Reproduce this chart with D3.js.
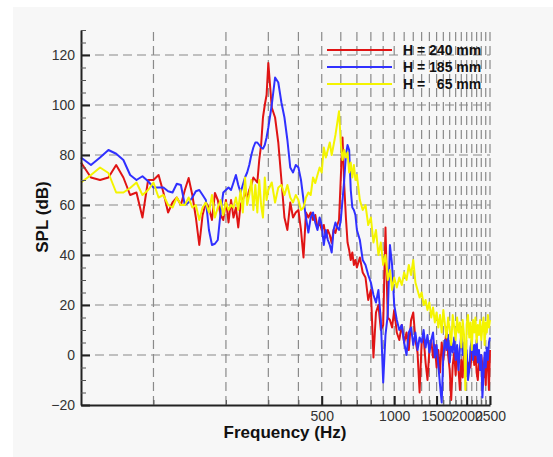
<!DOCTYPE html>
<html><head><meta charset="utf-8">
<script src="https://cdn.jsdelivr.net/npm/d3@7"></script>
<style>body{margin:0;background:#fff;} text{font-family:"Liberation Sans",Arial,Helvetica,sans-serif;}</style>
</head><body><svg id="c" width="553" height="457"></svg>
<script>
const freqs = [50,55,60,65,70,75,80,85,90,95,100,105,110,115,120,125,130,135,140,145,150,155,160,165,170,175,180,185,190,195,200,205,210,215,220,225,230,235,240,245,250,255,260,265,270,275,280,285,290,295,300,
310,320,330,340,350,360,370,380,390,400,410,420,430,440,450,460,470,480,490,500,510,520,530,540,550,560,570,580,590,600,610,620,630,640,650,660,670,680,690,700,
720,740,760,780,800,820,840,860,880,900,920,940,960,980,1000,
1025,1050,1075,1100,1125,1150,1175,1200,1225,1250,1275,1300,1325,1350,1375,1400,1425,1450,1475,1500,1525,1550,1575,1600,1625,1650,1675,1700,1725,1750,1775,1800,1825,1850,1875,1900,1925,1950,1975,2000,2025,2050,2075,2100,2125,2150,2175,2200,2225,2250,2275,2300,2325,2350,2375,2400,2425,2450,2475,2500];

const splH240 = [77,71,70,71,76,71,64,65,55,70,70,72,65,57,61,63,60,66,70.8,64,55,44,56,61,58.8,54,64.8,62,56,54,62,53,62,55,59,51,60,62,64.8,63,66,68,71,70,69,78,84,95,100,104,116.8,
99,95,85,70,55,50,61,55,57,58,50,39,57,55,57,54,56,51,53,50,52,47,50,48,44.8,50,48.8,52,54,71,87,68,55,45,42,38,41,36,38,35,
39,33,31,22,26,-1,17,20,10,12,51,15,14,11,18,
9,6,12,5,9,2,14,17,6,1,-15,5,7,-3,-10,2,6,-1,4,-5,2,-7,5,-2,3,11,0,-6,-18,-4,1,-8,3,-6,-14,-2,-9,2,-5,0,-8,-3,-5,1,3,-4,2,-7,-10,-2,-6,0,-4,-9,-1,-12,1,-3,-14,2];

const splH185 = [79,76,79,82,80.5,78,72,70,71.5,69.5,67,67,67,65.5,65,68.5,68,60,61,63,65.5,66,64,62,50,44,44.5,46,57,65,66,67,66,69,72,68,65,68,71,73,76,80,83,85,85,84,83,82.5,84,87,91,
100,111,109,101,95,86,75,73,76,75,70,62,55,49,55,57,53,50,55,52,44,50,46,44,41,50,53,51,50,54,62,70,80,84,82,66,59,58,56,50,
46,38,36,32,29,24,21,26,14,-11,8,16,44,36,20,
14,10,12,5,0,9,11,4,9,2,7,5,10,3,8,1,6,9,-1,4,-4,-12,-19,0,6,2,8,-3,5,1,7,-2,4,-6,3,8,0,5,-4,2,-10,-6,3,6,-2,4,0,6,-3,2,-6,0,-17,-8,1,-5,3,-2,5,7];

const splH65 = [69,72,75,72.8,65,65,66.8,69,64,66,69,63,64,60,59,63,60,60,63,59,60,54,59,61,57,64,55,59,62,56,61,58,60,59,63,58,66,57,71,60,64,70,58,68,57,70,60,55,71,62,66,
69,61,67,68,64,68,63,61,64,62,58,59,63,65,64,71,68.8,72,75,73,83,79,82,85,80,84,88,92.8,97.5,84.8,78,82,79,81,73,77,71,76,70,72,
62,58,60,52,55,45,50,40,45,36,40,30,34,26,31,
27,31,28,33,30,36,32,38,29,26,23,25,20,22,18,21,15,19,13,17,11,16,9,18,12,7,15,10,4,16,11,6,15,9,13,3,14,8,-14,12,16,7,13,2,14,9,15,5,12,8,14,6,11,15,4,13,9,16,11,14];

const seriesNames = ["H = 240 mm", "H = 185 mm", "H =   65 mm"];
const seriesColors = ["#e01414", "#3030ff", "#f4f400"];
const yTickValues = [-20, 0, 20, 40, 60, 80, 100, 120];
const yGridValues = [0, 20, 40, 60, 80, 100, 120];
const yMinorValues = [-15,-10,-5,5,10,15,25,30,35,45,50,55,65,70,75,85,90,95,105,110,115,125,130];
const xTickLabels = [500, 1000, 1500, 2000, 2500];
const xGridValues = [100,200,300,400,500,600,700,800,900,1000,1100,1200,1300,1400,1500,1600,1700,1800,1900,2000,2100,2200,2300,2400,2500];

const svg = d3.select("#c");
svg.append("rect").attr("x", 13).attr("y", 7).attr("width", 540).attr("height", 450).attr("fill", "#f7f7f7");

const x = d3.scaleLog().domain([50, 2500]).range([81, 490]);
const y = d3.scaleLinear().domain([-20, 130]).range([405, 30]);

const grid = svg.append("g").attr("stroke", "#8a8a8a").attr("stroke-width", 1.2).attr("stroke-dasharray", "9,5").attr("fill", "none");
grid.selectAll("line.v").data(xGridValues).join("line").attr("class", "v")
  .attr("x1", d => x(d)).attr("x2", d => x(d)).attr("y1", y(-20)).attr("y2", y(130));
grid.selectAll("line.h").data(yGridValues).join("line").attr("class", "h")
  .attr("x1", x(50)).attr("x2", x(2500)).attr("y1", d => y(d)).attr("y2", d => y(d));

const series = [splH240, splH185, splH65];
const line = d3.line().x((d, i) => x(freqs[i])).y(d => y(d));
series.forEach((s, k) => {
  svg.append("path").datum(s).attr("fill", "none").attr("stroke", seriesColors[k])
    .attr("stroke-width", 2).attr("stroke-linejoin", "round").attr("d", line);
});

// axes
const yAxis = d3.axisLeft(y).tickValues(yTickValues).tickSize(-9).tickSizeOuter(0).tickPadding(6);
const gy = svg.append("g").attr("transform", `translate(${x(50)},0)`).call(yAxis);
const yMinor = d3.axisLeft(y).tickValues(yMinorValues).tickSize(-5).tickSizeOuter(0).tickFormat("");
const gym = svg.append("g").attr("transform", `translate(${x(50)},0)`).call(yMinor);
gym.select(".domain").remove();

const xAxis = d3.axisBottom(x).tickValues(xTickLabels).tickFormat(d3.format("d")).tickSize(-9).tickSizeOuter(0).tickPadding(6);
const gx = svg.append("g").attr("transform", `translate(0,${y(-20)})`).call(xAxis);
const xMinor = d3.axisBottom(x).tickValues(xGridValues.filter(v => xTickLabels.indexOf(v) < 0)).tickSize(-5).tickSizeOuter(0).tickFormat("");
const gxm = svg.append("g").attr("transform", `translate(0,${y(-20)})`).call(xMinor);
gxm.select(".domain").remove();

[gy, gx].forEach(g => {
  g.select(".domain").attr("stroke", "#222").attr("stroke-width", 2);
  g.selectAll(".tick line").attr("stroke", "#222").attr("stroke-width", 2);
  g.selectAll(".tick text").attr("font-size", 14).attr("fill", "#333").attr("font-family", "Liberation Sans, Arial, sans-serif");
});
[gym, gxm].forEach(g => g.selectAll(".tick line").attr("stroke", "#555").attr("stroke-width", 1));

// titles
svg.append("text").attr("x", 285).attr("y", 438).attr("text-anchor", "middle")
  .attr("font-size", 17).attr("font-weight", "bold").attr("fill", "#111").text("Frequency (Hz)");
svg.append("text").attr("transform", "translate(48,217) rotate(-90)").attr("text-anchor", "middle")
  .attr("font-size", 17).attr("font-weight", "bold").attr("fill", "#111").text("SPL (dB)");

// legend
const lg = svg.append("g");
seriesNames.forEach((n, k) => {
  const ly = 50 + k * 17;
  lg.append("line").attr("x1", 327).attr("x2", 392).attr("y1", ly).attr("y2", ly)
    .attr("stroke", seriesColors[k]).attr("stroke-width", 2);
  lg.append("text").attr("x", 403).attr("y", ly + 5).attr("font-size", 14).attr("font-weight", "bold")
    .attr("fill", "#111").style("white-space", "pre").text(n);
});
</script></body></html>
